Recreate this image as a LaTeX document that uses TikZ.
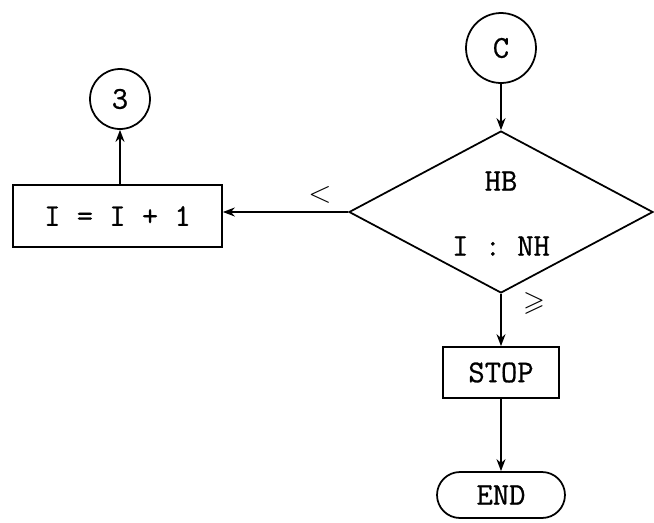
\documentclass[tikz,border=0pt]{standalone}
\usepackage{amssymb}
\usepackage{fontspec}
\newfontfamily\tw[FakeBold=0.8]{Latin Modern Mono}
\usetikzlibrary{shapes.geometric,arrows.meta}
\begin{document}
\begin{tikzpicture}[x=0.02cm,y=-0.02cm,
  line width=1pt,
  every node/.style={font=\tw\fontsize{18}{21}\selectfont},
  conn/.style={circle,draw,minimum size=#1,inner sep=0pt},
  procbox/.style={rectangle,draw,inner sep=0pt},
  decide/.style={diamond,draw,inner sep=0pt,minimum width=6.08cm,minimum height=3.24cm},
  terminal/.style={rectangle,draw,rounded corners=0.46cm,inner sep=0pt},
  flow/.style={-{Stealth[length=2.4mm,width=1.8mm]}},
  branchlabel/.style={font=\fontsize{16}{19}\selectfont}]
\useasboundingbox (0,0) rectangle (654,522);

\node[conn=1.4cm] (c) at (501,48) {C};
\node[decide] (d) at (501,212) {};
\node (hb) at (501,181) {HB};
\node (cmp) at (501,246) {I : NH};
\node[procbox,minimum width=4.18cm,minimum height=1.24cm] (inc) at (117.5,216) {I = I + 1};
\node[conn=1.2cm] (three) at (120,99) {3};
\node[procbox,minimum width=2.32cm,minimum height=1.02cm] (stop) at (501,372.5) {STOP};
\node[terminal,minimum width=2.56cm,minimum height=0.92cm] (end) at (501,495) {END};

\node[branchlabel] (lt) at (320,195) {$<$};
\node[branchlabel] (ge) at (534,303) {$\geqslant$};

\draw[flow] (c) -- (d.north);
\draw[flow] (d.west) -- (d.west -| inc.east);
\draw[flow] (inc.north -| three) -- (three);
\draw[flow] (d.south) -- (stop);
\draw[flow] (stop) -- (end);
\end{tikzpicture}
\end{document}
